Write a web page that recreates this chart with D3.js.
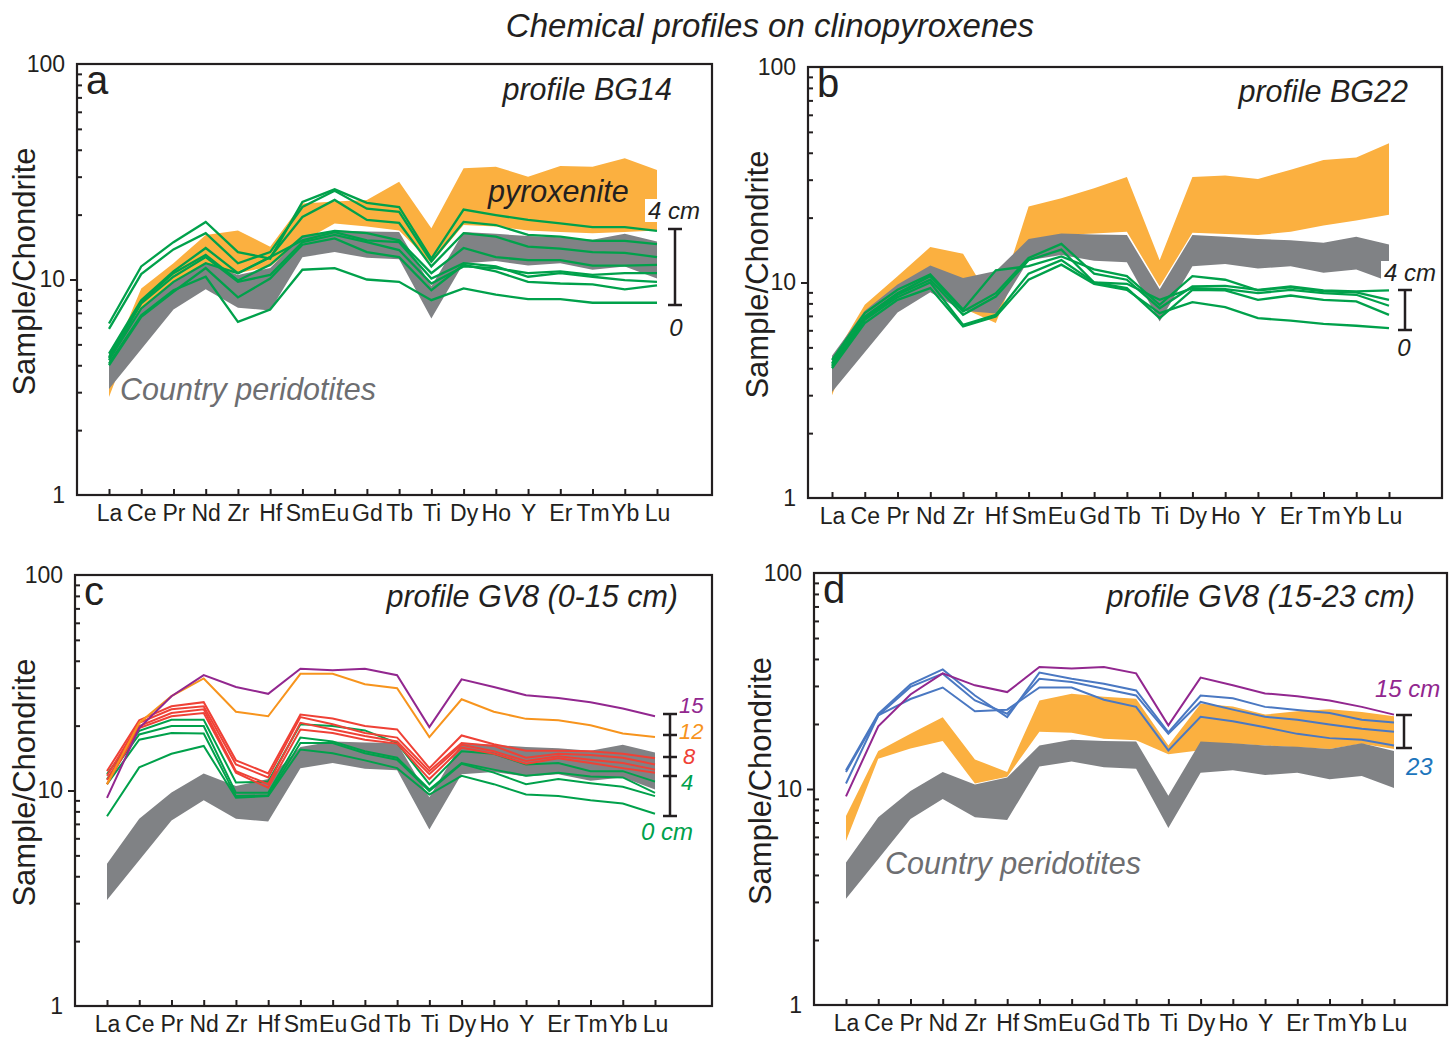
<!DOCTYPE html>
<html>
<head>
<meta charset="utf-8">
<script src="https://cdn.jsdelivr.net/npm/d3@7/dist/d3.min.js"></script>
<style>
  body { margin: 0; background: #fff; }
  svg text { font-family: "Liberation Sans", Arial, Helvetica, sans-serif; }
</style>
</head>
<body>
<svg id="chart" width="1450" height="1039"></svg>
<script>
// ---- data (Sample/Chondrite) ----
const elements = ["La","Ce","Pr","Nd","Zr","Hf","Sm","Eu","Gd","Tb","Ti","Dy","Ho","Y","Er","Tm","Yb","Lu"];

// country peridotite envelope, same in every panel
const periUpper = [4.57,7.4,9.8,12.0,10.5,11.3,15.9,16.9,16.7,16.6,9.3,16.6,16.3,15.9,15.7,15.3,16.3,15.0];
const periLower = [3.10,4.74,7.26,9.0,7.4,7.18,12.7,13.4,12.6,12.4,6.6,11.9,12.2,11.6,11.9,11.1,11.5,10.1];

// pyroxenite envelopes
const pyxAUpper = [4.0,9.08,11.9,16.1,16.9,14.2,22.5,23.0,23.4,28.4,17.3,32.8,33.4,30.0,33.6,33.4,36.5,32.2];
const pyxALower = [2.85,6.95,8.9,10.7,10.7,11.5,15.0,18.2,17.6,16.9,11.9,17.9,17.6,16.9,16.6,16.4,16.6,16.9];
const pyxBUpper = [4.37,7.88,10.7,14.6,13.6,7.6,22.5,24.6,27.4,30.9,12.7,30.9,31.4,30.2,33.4,37.0,38.0,44.3];
const pyxBLower = [3.0,7.2,9.58,11.9,7.6,6.48,15.8,16.6,16.9,17.2,9.58,17.0,16.8,16.6,17.2,18.4,19.4,20.6];
const pyxDUpper = [7.5,15.0,18.0,21.5,13.7,12.0,25.7,27.6,26.7,26.2,15.9,24.8,24.1,22.1,22.9,23.4,22.7,21.7];
const pyxDLower = [5.75,13.8,15.4,16.7,10.6,11.4,18.4,18.2,17.1,16.8,14.5,15.1,16.2,15.9,15.6,15.3,16.2,15.3];

// profile BG14 (0 - 4 cm)
const bg14Lines = [
  [6.25,11.5,14.9,18.5,13.4,12.5,22.9,26.2,22.7,21.7,12.5,21.1,19.9,18.9,18.2,17.5,17.5,16.8],
  [5.9,10.6,13.8,16.4,11.9,13.4,21.7,25.8,21.3,20.6,12.1,18.5,17.9,16.1,15.8,15.1,15.1,14.6],
  [4.53,8.02,10.9,14.0,10.7,12.7,19.5,23.4,18.9,18.3,11.5,16.4,15.8,14.2,13.9,13.4,13.3,12.7],
  [4.37,7.88,10.7,13.0,9.9,11.7,15.8,16.8,16.4,15.2,10.7,14.0,12.7,12.3,12.3,11.6,11.6,11.7],
  [4.3,7.74,10.3,12.7,9.75,10.5,14.9,16.1,14.9,13.7,9.58,11.5,11.3,10.7,10.9,10.5,10.7,10.7],
  [4.22,7.34,9.75,11.9,10.7,12.7,15.2,16.6,15.2,14.9,10.1,11.9,11.5,10.3,10.7,10.3,9.93,9.75],
  [4.07,6.83,8.92,10.3,6.36,7.26,11.1,11.3,10.0,9.75,8.02,9.1,8.5,8.1,8.1,7.8,7.8,7.8],
  [4.0,6.71,8.77,11.3,8.26,10.1,14.5,15.5,13.4,12.7,8.92,11.7,10.9,9.75,9.58,9.5,9.0,9.4]
];

// profile BG22 (0 - 4 cm)
const bg22Lines = [
  [4.37,7.21,9.25,10.9,7.5,11.4,11.9,13.2,11.5,10.7,7.88,10.7,10.3,9.2,9.5,9.1,9.0,8.31],
  [4.22,6.95,8.92,10.7,7.34,8.92,13.0,15.1,11.0,10.3,7.6,9.58,9.65,9.25,9.58,9.2,9.1,9.2],
  [4.15,6.83,8.77,10.3,7.08,8.61,12.7,14.2,10.0,9.86,8.31,9.42,9.32,8.92,9.25,8.92,8.77,7.8],
  [4.07,6.71,8.55,10.0,6.36,7.08,11.0,12.7,10.0,9.42,6.83,9.25,9.2,8.31,8.7,8.31,8.17,7.08],
  [4.0,6.48,8.31,9.42,6.25,6.95,10.3,12.1,9.86,9.25,7.21,8.1,7.69,6.83,6.65,6.42,6.3,6.14]
];

// profile GV8
const gv8Green = [
  [11.9,18.9,21.3,21.3,10.9,11.0,20.3,19.9,19.0,16.6,10.7,15.2,14.8,13.2,13.4,12.3,12.3,11.0],
  [11.3,18.2,19.9,19.9,9.75,9.75,17.6,16.9,15.2,14.2,10.1,13.4,12.5,11.7,12.1,11.6,11.5,9.75],
  [10.7,17.2,18.5,18.4,9.42,9.5,16.6,16.6,14.9,13.9,9.93,13.3,12.1,10.7,11.3,10.8,10.4,9.42],
  [7.6,12.8,14.8,16.1,9.25,9.42,15.5,14.9,13.8,12.7,9.58,11.7,10.7,9.58,9.42,9.0,8.7,7.8]
];
const gv8Red = [
  [12.3,21.2,24.6,25.7,13.8,12.0,22.5,21.6,19.9,19.2,12.7,18.0,16.4,15.3,15.3,15.2,14.8,14.1],
  [11.7,20.6,23.8,24.6,13.2,11.5,21.9,20.3,18.5,17.6,12.3,16.6,16.1,14.2,14.8,14.6,14.2,13.2],
  [11.2,19.9,22.9,23.8,12.3,10.7,20.6,19.2,17.9,16.9,11.9,16.3,15.2,13.7,14.4,13.9,13.4,12.5],
  [10.7,19.5,22.1,22.9,12.1,10.3,19.2,18.5,17.2,16.5,11.3,15.8,14.8,13.3,14.1,13.4,12.7,12.1]
];
const gv8Orange = [10.7,20.6,27.4,33.1,23.2,22.1,34.8,34.8,31.1,29.8,17.7,26.5,23.2,21.5,21.2,20.1,18.4,17.7];
const gv8Purple = [9.25,19.5,27.4,34.3,30.2,28.1,36.7,36.1,36.7,34.3,19.7,32.8,30.2,27.7,26.9,25.7,24.0,22.1];
const gv8Blue = [
  [12.2,22.3,30.5,35.8,27.1,21.5,34.6,32.4,30.7,28.6,18.3,27.1,26.3,24.0,23.2,22.5,20.9,20.3],
  [12.0,21.9,29.7,34.2,25.7,22.3,32.4,31.3,29.1,27.1,18.0,25.3,23.3,21.6,20.9,19.9,19.0,18.4],
  [10.6,21.9,26.1,29.5,22.9,23.3,29.5,29.5,25.9,24.0,15.1,21.6,20.6,19.3,18.0,17.2,16.9,15.9]
];

const yTicks = [1, 10, 100];
const yMinor = [2,3,4,5,6,7,8,9,20,30,40,50,60,70,80,90];

// ---- colours ----
const C = {
  ink: "#231F20", peri: "#808285", periText: "#6D6E71", pyx: "#FBB040",
  green: "#00A14B", red: "#EF4136", orange: "#F7941D", purple: "#92278F",
  blue: "#4A78C2", blueText: "#1C75BC"
};

const svg = d3.select("#chart");

svg.append("text")
  .attr("x", 770).attr("y", 37)
  .attr("text-anchor", "middle")
  .style("font-size", "33px").style("font-style", "italic").style("fill", C.ink)
  .text("Chemical profiles on clinopyroxenes");

function drawPanel(p) {
  const g = svg.append("g");
  const x = d3.scalePoint().domain(elements).range([p.xFirst, p.xLast]);
  const y = d3.scaleLog().domain([1, 100]).range([p.bottom, p.top]);

  const band = (up, lo) => d3.area()
    .x((d, i) => x(elements[i]))
    .y0((d, i) => y(lo[i]))
    .y1((d, i) => y(up[i]))(up);
  const line = d3.line().x((d, i) => x(elements[i])).y(d => y(d));

  (p.bands || []).forEach(b => {
    g.append("path").attr("d", band(b.up, b.lo)).attr("fill", b.color);
  });
  (p.series || []).forEach(s => {
    s.rows.forEach(r => {
      g.append("path").attr("d", line(r))
        .attr("fill", "none").attr("stroke", s.color)
        .attr("stroke-width", s.width || 2).attr("stroke-linejoin", "miter");
    });
  });

  // frame
  g.append("rect")
    .attr("x", p.left).attr("y", p.top)
    .attr("width", p.right - p.left).attr("height", p.bottom - p.top)
    .attr("fill", "none").attr("stroke", C.ink).attr("stroke-width", 2.2);

  // y axis: minor inward, labels, major outward at 10
  const minor = g.append("g").attr("transform", `translate(${p.left},0)`)
    .call(d3.axisLeft(y).tickValues(yMinor).tickSize(-5).tickFormat(""));
  const major = g.append("g").attr("transform", `translate(${p.left},0)`)
    .call(d3.axisLeft(y).tickValues(yTicks).tickSize(7).tickPadding(5).tickFormat(d3.format("d")));
  major.selectAll(".tick line").attr("stroke", d => d === 10 ? C.ink : "none");
  // x axis: inward ticks
  const xa = g.append("g").attr("transform", `translate(0,${p.bottom})`)
    .call(d3.axisBottom(x).tickSize(-6).tickPadding(10));
  [minor, major, xa].forEach(a => {
    a.select(".domain").remove();
    a.selectAll(".tick line").attr("stroke-width", 2);
    a.selectAll("line").filter(function () { return d3.select(this).attr("stroke") !== "none"; }).attr("stroke", C.ink);
    a.selectAll("text").style("font-size", "23px").style("fill", C.ink).style("font-family", "'Liberation Sans', Arial, sans-serif");
  });

  // axis title
  g.append("text")
    .attr("transform", `translate(${p.titleX},${(p.top + p.bottom) / 2 - 8}) rotate(-90)`)
    .attr("text-anchor", "middle")
    .style("font-size", "31px").style("fill", C.ink)
    .text("Sample/Chondrite");

  // panel letter
  g.append("text").attr("x", p.left + 9).attr("y", p.top + 30)
    .style("font-size", "40px").style("fill", C.ink).text(p.letter);

  // annotations
  (p.notes || []).forEach(n => {
    const t = g.append("text").attr("x", n.x).attr("y", n.y)
      .attr("text-anchor", n.anchor || "start")
      .style("font-size", (n.size || 25) + "px").style("font-style", "italic")
      .style("fill", n.color || C.ink).text(n.text);
    if (n.bg) {
      const bb = t.node().getBBox();
      g.insert("rect", () => t.node())
        .attr("x", bb.x - 3).attr("y", bb.y + 2).attr("width", bb.width + 6).attr("height", bb.height - 4)
        .attr("fill", "#fff");
    }
  });

  // depth scale bar
  if (p.bar) {
    const b = p.bar;
    g.append("line").attr("x1", b.x).attr("x2", b.x).attr("y1", b.ticks[0]).attr("y2", b.ticks[b.ticks.length - 1])
      .attr("stroke", C.ink).attr("stroke-width", 2.5);
    b.ticks.forEach(t => g.append("line")
      .attr("x1", b.x - b.cap).attr("x2", b.x + b.cap).attr("y1", t).attr("y2", t)
      .attr("stroke", C.ink).attr("stroke-width", 2.5));
  }
}

const periBand = { up: periUpper, lo: periLower, color: C.peri };

drawPanel({
  letter: "a", left: 77, right: 712, top: 64, bottom: 495, xFirst: 109, xLast: 657, titleX: 35,
  bands: [{ up: pyxAUpper, lo: pyxALower, color: C.pyx }, periBand],
  series: [{ rows: bg14Lines, color: C.green, width: 2.3 }],
  notes: [
    { text: "profile BG14", x: 672, y: 100, anchor: "end", size: 30.5 },
    { text: "pyroxenite", x: 488, y: 202, size: 30.5 },
    { text: "Country peridotites", x: 120, y: 400, size: 30.5, color: C.periText },
    { text: "4 cm", x: 648, y: 219, size: 24, bg: true },
    { text: "0", x: 676, y: 336, size: 24, anchor: "middle" }
  ],
  bar: { x: 675, ticks: [229, 305], cap: 7 }
});

drawPanel({
  letter: "b", left: 808, right: 1442, top: 67, bottom: 498, xFirst: 832, xLast: 1389, titleX: 768,
  bands: [{ up: pyxBUpper, lo: pyxBLower, color: C.pyx }, periBand],
  series: [{ rows: bg22Lines, color: C.green, width: 2.3 }],
  notes: [
    { text: "profile BG22", x: 1408, y: 102, anchor: "end", size: 30.5 },
    { text: "4 cm", x: 1384, y: 281, size: 24, bg: true },
    { text: "0", x: 1404, y: 356, size: 24, anchor: "middle" }
  ],
  bar: { x: 1405, ticks: [290, 330], cap: 7 }
});

drawPanel({
  letter: "c", left: 75, right: 712, top: 575, bottom: 1006, xFirst: 107, xLast: 655, titleX: 35,
  bands: [periBand],
  series: [
    { rows: gv8Green, color: C.green },
    { rows: gv8Red, color: C.red },
    { rows: [gv8Orange], color: C.orange },
    { rows: [gv8Purple], color: C.purple }
  ],
  notes: [
    { text: "profile GV8 (0-15 cm)", x: 678, y: 607, anchor: "end", size: 30.5 },
    { text: "15", x: 679, y: 713, size: 22, color: C.purple },
    { text: "12", x: 679, y: 739, size: 22, color: C.orange },
    { text: "8", x: 683, y: 764, size: 22, color: C.red },
    { text: "4", x: 681, y: 790, size: 22, color: C.green },
    { text: "0 cm", x: 641, y: 840, size: 24, color: C.green }
  ],
  bar: { x: 670, ticks: [714, 735, 757, 776, 816], cap: 7 }
});

drawPanel({
  letter: "d", left: 814, right: 1447, top: 573, bottom: 1005, xFirst: 846, xLast: 1394, titleX: 771,
  bands: [{ up: pyxDUpper, lo: pyxDLower, color: C.pyx }, periBand],
  series: [
    { rows: gv8Blue, color: C.blue },
    { rows: [gv8Purple], color: C.purple }
  ],
  notes: [
    { text: "profile GV8 (15-23 cm)", x: 1415, y: 607, anchor: "end", size: 30.5 },
    { text: "Country peridotites", x: 885, y: 874, size: 30.5, color: C.periText },
    { text: "15 cm", x: 1375, y: 697, size: 24, color: C.purple },
    { text: "23", x: 1406, y: 775, size: 24, color: C.blueText }
  ],
  bar: { x: 1404, ticks: [715, 748], cap: 8 }
});
</script>
</body>
</html>
